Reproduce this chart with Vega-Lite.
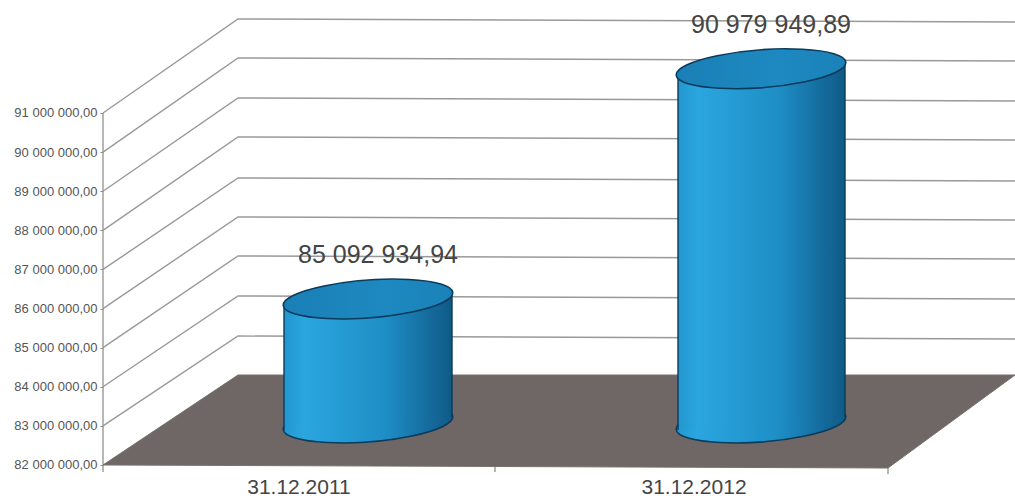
{
"$schema":"https://vega.github.io/schema/vega-lite/v6.json",
"width":1015,"height":500,"autosize":"none","padding":0,"background":"#ffffff",
"config":{"view":{"stroke":null},"font":"Liberation Sans"},
"datasets":{
"grid":[
{"level":91,"x":103,"y":91000000},{"level":91,"x":238,"y":93404000},{"level":91,"x":1015,"y":93327000},
{"level":90,"x":103,"y":90000000},{"level":90,"x":238,"y":92407000},{"level":90,"x":1015,"y":92330000},
{"level":89,"x":103,"y":89000000},{"level":89,"x":238,"y":91384000},{"level":89,"x":1015,"y":91307000},
{"level":88,"x":103,"y":88000000},{"level":88,"x":238,"y":90387000},{"level":88,"x":1015,"y":90310000},
{"level":87,"x":103,"y":87000000},{"level":87,"x":238,"y":89338000},{"level":87,"x":1015,"y":89261000},
{"level":86,"x":103,"y":86000000},{"level":86,"x":238,"y":88341000},{"level":86,"x":1015,"y":88264000},
{"level":85,"x":103,"y":85000000},{"level":85,"x":238,"y":87344000},{"level":85,"x":1015,"y":87267000},
{"level":84,"x":103,"y":84000000},{"level":84,"x":238,"y":86321000},{"level":84,"x":1015,"y":86244000},
{"level":83,"x":103,"y":83000000},{"level":83,"x":238,"y":85298000},{"level":83,"x":1015,"y":85221000}
],
"floor":[
{"x":103,"y":82000000,"y2":82000000},
{"x":238,"y":84301000,"y2":81987000},
{"x":888,"y":84301000,"y2":81923000},
{"x":1015,"y":84301000,"y2":84301000}
],
"frame":[
{"x":103,"y":91000000,"y2":81820000},
{"x":495,"y":82000000,"y2":81820000},
{"x":888,"y":81923000,"y2":81770000}
],
"cylinders":[
{"period":"31.12.2011","value":85092934.94,"base":82000000,"label":"85 092 934,94","x":368,"labelX":378,"dateX":299},
{"period":"31.12.2012","value":90979949.89,"base":82000000,"label":"90 979 949,89","x":761,"labelX":771,"dateX":694}
],
"bodies":[
{"period":"31.12.2011","x":284,"y":86065000,"y2":82895000},
{"period":"31.12.2011","x":452,"y":86398000,"y2":83227000},
{"period":"31.12.2012","x":678,"y":91972000,"y2":82895000},
{"period":"31.12.2012","x":845,"y":92355000,"y2":83227000}
]
},
"data":{"name":"grid"},
"encoding":{
"x":{"field":"x","type":"quantitative","scale":{"domain":[0,1015],"nice":false,"zero":false},"axis":null},
"y":{"field":"y","type":"quantitative","scale":{"domain":[81105000,93889000],"nice":false,"zero":false},
"axis":{"title":null,"orient":"left","offset":-103,"values":[82000000,83000000,84000000,85000000,86000000,87000000,88000000,89000000,90000000,91000000],"domain":false,"grid":false,"tickSize":3,"tickColor":"#888888","labelPadding":3,"labelFontSize":13,"labelColor":"#555555","labelFont":"Liberation Sans","labelExpr":"replace(replace(format(datum.value,',.2f'),/,/g,' '),'.',',')"}}
},
"layer":[
{"data":{"name":"grid"},"mark":{"type":"line","stroke":"#999999","strokeWidth":1.4},"encoding":{"detail":{"field":"level"}}},
{"data":{"name":"frame"},"mark":{"type":"rule","stroke":"#999999","strokeWidth":1.4},"encoding":{"y2":{"field":"y2"}}},
{"data":{"name":"floor"},"mark":{"type":"area","fill":"#6f6766","opacity":1,"stroke":"#77706e","strokeWidth":1},"encoding":{"y2":{"field":"y2"}}},
{"data":{"name":"cylinders"},"mark":{"type":"point","shape":"M-0.997,0.077 A1,0.22,-4.4,1,1,0.997,-0.077 A1,0.22,-4.4,1,1,-0.997,0.077 Z","size":28900,"filled":true,"opacity":1,"yOffset":-42,"stroke":"#0b3a5a","strokeWidth":1.6,"fill":{"gradient":"linear","x1":0,"y1":0,"x2":1,"y2":0,"stops":[{"offset":0,"color":"#2296cf"},{"offset":0.12,"color":"#2ba6df"},{"offset":0.6,"color":"#1e8ec6"},{"offset":0.88,"color":"#14699a"},{"offset":1,"color":"#0f5a85"}]}},"encoding":{"y":{"field":"base","type":"quantitative"}}},
{"data":{"name":"bodies"},"mark":{"type":"area","opacity":1,"fill":{"gradient":"linear","x1":0,"y1":0,"x2":1,"y2":0,"stops":[{"offset":0,"color":"#2296cf"},{"offset":0.12,"color":"#2ba6df"},{"offset":0.6,"color":"#1e8ec6"},{"offset":0.88,"color":"#14699a"},{"offset":1,"color":"#0f5a85"}]}},"encoding":{"y2":{"field":"y2"},"detail":{"field":"period"}}},
{"data":{"name":"bodies"},"mark":{"type":"rule","stroke":"#0b3a5a","strokeWidth":1.4},"encoding":{"y2":{"field":"y2"}}},
{"data":{"name":"cylinders"},"mark":{"type":"point","shape":"M-0.997,0.077 A1,0.22,-4.4,1,1,0.997,-0.077 A1,0.22,-4.4,1,1,-0.997,0.077 Z","size":28900,"filled":true,"opacity":1,"yOffset":-45,"stroke":"#0b3a5a","strokeWidth":1.6,"fill":{"gradient":"linear","x1":0,"y1":0,"x2":1,"y2":0,"stops":[{"offset":0,"color":"#1a7fb6"},{"offset":0.6,"color":"#1d89c0"},{"offset":1,"color":"#1a82b8"}]}},"encoding":{"y":{"field":"value","type":"quantitative"}}},
{"data":{"name":"cylinders"},"mark":{"type":"text","fontSize":25,"color":"#444444","font":"Liberation Sans","align":"center","baseline":"middle","yOffset":-89},"encoding":{"x":{"field":"labelX","type":"quantitative"},"y":{"field":"value","type":"quantitative"},"text":{"field":"label"}}},
{"data":{"name":"cylinders"},"mark":{"type":"text","fontSize":21,"color":"#444444","font":"Liberation Sans","align":"center","baseline":"middle","yOffset":23},"encoding":{"x":{"field":"dateX","type":"quantitative"},"y":{"field":"base","type":"quantitative"},"text":{"field":"period"}}}
]
}
